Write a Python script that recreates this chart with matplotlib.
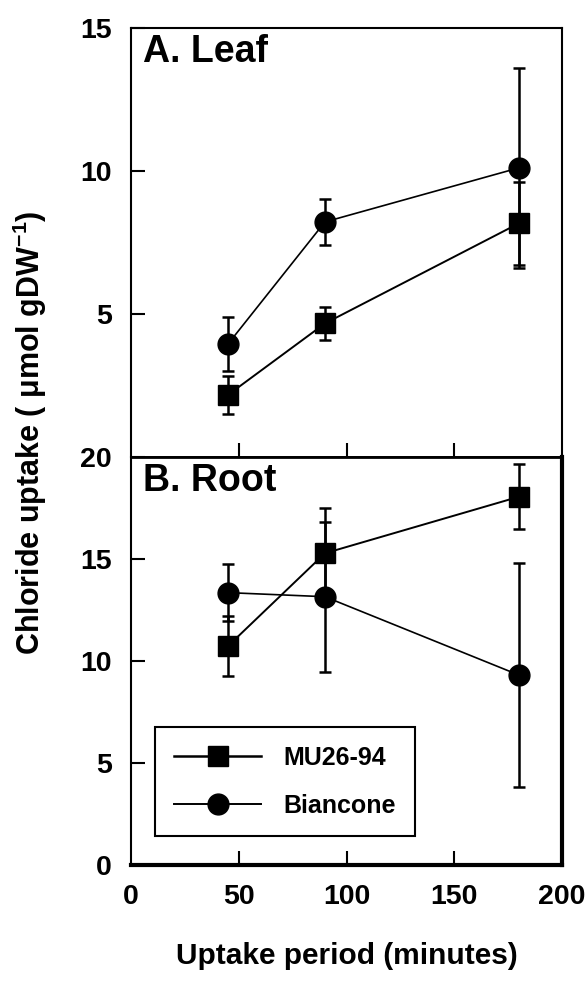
import numpy as np
import matplotlib
matplotlib.use("Agg")
import matplotlib.pyplot as plt
from matplotlib.lines import Line2D

plt.rcParams['font.family'] = ['Liberation Sans', 'DejaVu Sans']
plt.rcParams['font.weight'] = 'bold'
plt.rcParams['mathtext.fontset'] = 'custom'
plt.rcParams['mathtext.rm'] = 'Liberation Sans:bold'
plt.rcParams['mathtext.it'] = 'Liberation Sans:bold'
plt.rcParams['mathtext.bf'] = 'Liberation Sans:bold'

# uptake period (minutes)
times = [45, 90, 180]

# A. Leaf
leaf_mu = [2.17, 4.67, 8.17]
leaf_mu_err = [0.65, 0.58, 1.45]
leaf_bi = [3.95, 8.22, 10.11]
leaf_bi_err = [0.95, 0.81, 3.5]

# B. Root
root_mu = [10.73, 15.28, 18.05]
root_mu_err = [1.47, 2.2, 1.6]
root_bi = [13.35, 13.15, 9.31]
root_bi_err = [1.4, 3.67, 5.5]

fig = plt.figure(figsize=(5.87, 9.9), dpi=100)
ax1 = fig.add_axes([0.2232, 0.5384, 0.7342, 0.4333])
ax2 = fig.add_axes([0.2232, 0.1263, 0.7342, 0.4121])

def draw(ax, mu, mu_err, bi, bi_err):
    ax.errorbar(times, mu, yerr=mu_err, fmt='s-', color='black', ms=14,
                lw=1.4, elinewidth=1.8, capsize=4.5, capthick=1.8)
    ax.errorbar(times, bi, yerr=bi_err, fmt='o-', color='black', ms=15,
                lw=1.2, elinewidth=1.8, capsize=4.5, capthick=1.8)
    ax.set_xlim(0, 200)
    ax.tick_params(axis='both', direction='in', length=10, width=1.5,
                   labelsize=20.5, pad=14)
    for lab in ax.get_xticklabels() + ax.get_yticklabels():
        lab.set_fontweight('bold')

# top panel
draw(ax1, leaf_mu, leaf_mu_err, leaf_bi, leaf_bi_err)
ax1.set_ylim(0, 15)
ax1.set_yticks([5, 10, 15])
ax1.set_xticks([50, 100, 150])
ax1.tick_params(axis='x', labelbottom=False)
for s in ['left', 'top', 'right']:
    ax1.spines[s].set_linewidth(1.5)
ax1.spines['bottom'].set_linewidth(2)
ax1.text(0.028, 0.985, 'A. Leaf', transform=ax1.transAxes, fontsize=27,
         fontweight='bold', va='top', ha='left')

# bottom panel
draw(ax2, root_mu, root_mu_err, root_bi, root_bi_err)
ax2.set_ylim(0, 20)
ax2.set_yticks([0, 5, 10, 15, 20])
ax2.set_xticks([0, 50, 100, 150, 200])
ax2.spines['left'].set_linewidth(1.5)
ax2.spines['top'].set_linewidth(2)
ax2.spines['bottom'].set_linewidth(3)
ax2.spines['right'].set_linewidth(3)
for t in ax2.xaxis.get_major_ticks():
    if t.get_loc() in (0, 200):
        t.tick1line.set_visible(False)
for t in ax2.yaxis.get_major_ticks():
    if t.get_loc() in (0, 20):
        t.tick1line.set_visible(False)
for t in ax1.yaxis.get_major_ticks():
    if t.get_loc() == 15:
        t.tick1line.set_visible(False)
ax2.text(0.028, 0.985, 'B. Root', transform=ax2.transAxes, fontsize=27,
         fontweight='bold', va='top', ha='left')

handles = [Line2D([], [], color='black', marker='s', ms=14, lw=1.8),
           Line2D([], [], color='black', marker='o', ms=15, lw=1.4)]
leg = ax2.legend(handles, ['MU26-94', 'Biancone'], loc='upper left',
                 bbox_to_anchor=(0.0557, 0.338),
                 borderaxespad=0, fancybox=False, edgecolor='black',
                 framealpha=1, prop={'size': 18, 'weight': 'bold'},
                 handlelength=3.5, handletextpad=0.9, labelspacing=0.95,
                 borderpad=0.75)
leg.get_frame().set_linewidth(1.5)

ax2.set_xlabel('Uptake period (minutes)', fontsize=21.5, fontweight='bold',
               labelpad=23)
fig.text(0.051, 0.5626, r'Chloride uptake ( $\mu$mol gDW$^{-1}$)', rotation=90,
         fontsize=22, fontweight='bold', ha='center', va='center')

fig.savefig('out.png', dpi=100)
